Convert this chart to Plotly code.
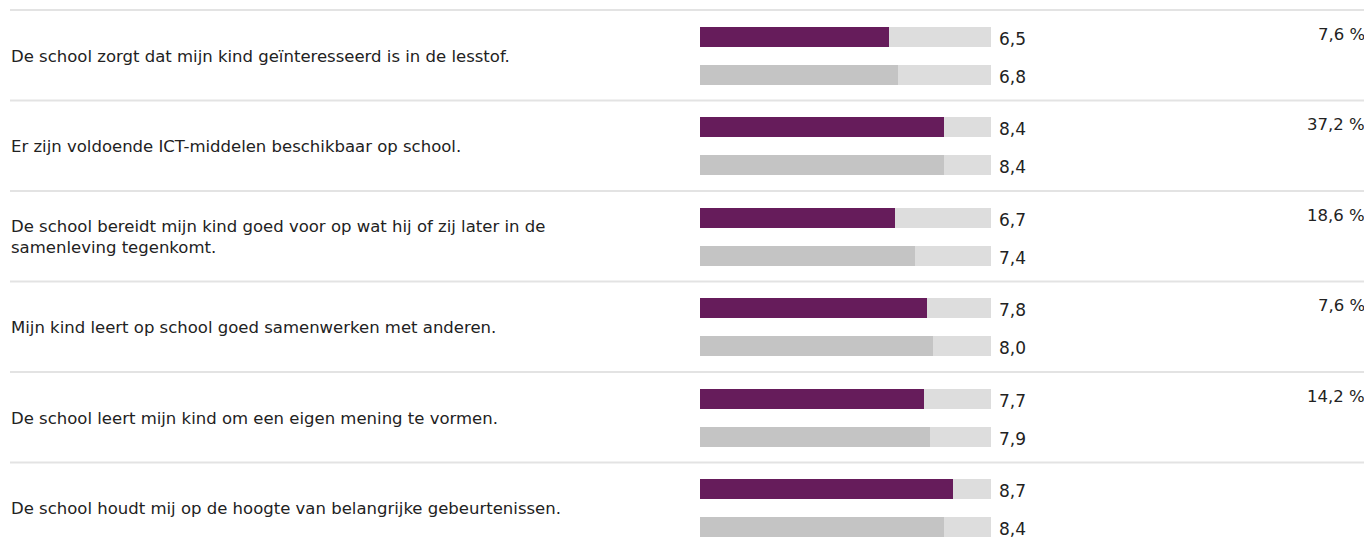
import plotly.graph_objects as go

questions = [
    "De school zorgt dat mijn kind geïnteresseerd is in de lesstof.",
    "Er zijn voldoende ICT-middelen beschikbaar op school.",
    "De school bereidt mijn kind goed voor op wat hij of zij later in de<br>samenleving tegenkomt.",
    "Mijn kind leert op school goed samenwerken met anderen.",
    "De school leert mijn kind om een eigen mening te vormen.",
    "De school houdt mij op de hoogte van belangrijke gebeurtenissen.",
]
school_scores = [6.5, 8.4, 6.7, 7.8, 7.7, 8.7]
benchmark_scores = [6.8, 8.4, 7.4, 8.0, 7.9, 8.4]
percentages = ["7,6 %", "37,2 %", "18,6 %", "7,6 %", "14,2 %", ""]
max_score = 10

# page body has an 8px margin; work in page pixels and convert
PAGE_W, PAGE_H = 1372, 548
OFF = 8
W, H = PAGE_W - 2 * OFF, PAGE_H - 2 * OFF
row_px = 90.5
top_px = 10 - OFF
FONT = "DejaVu Sans"
PURPLE = "#661c5b"
GRAY = "#c4c4c4"
TRACK = "#dddddd"
TEXT = "#222222"

def px(xp):
    return (xp - OFF) / W

n = len(questions)
rows = list(range(n))
y_school = [r + 0.298 for r in rows]
y_bench = [r + 0.713 for r in rows]
bar_w = 0.221

fig = go.Figure()
fig.add_trace(go.Bar(x=[max_score] * n, y=y_school, orientation="h", width=bar_w,
                     marker=dict(color=TRACK, line=dict(width=0)), hoverinfo="skip", showlegend=False))
fig.add_trace(go.Bar(x=[max_score] * n, y=y_bench, orientation="h", width=bar_w,
                     marker=dict(color=TRACK, line=dict(width=0)), hoverinfo="skip", showlegend=False))
fig.add_trace(go.Bar(x=school_scores, y=y_school, orientation="h", width=bar_w,
                     marker=dict(color=PURPLE, line=dict(width=0)), showlegend=False))
fig.add_trace(go.Bar(x=benchmark_scores, y=y_bench, orientation="h", width=bar_w,
                     marker=dict(color=GRAY, line=dict(width=0)), showlegend=False))

def fmt(v):
    return f"{v:.1f}".replace(".", ",")

annotations = []
shapes = []
for i in rows:
    shapes.append(dict(type="line", xref="paper", yref="y", x0=px(10), x1=1, y0=i, y1=i,
                       line=dict(color="#e3e3e3", width=2)))
    annotations.append(dict(xref="paper", yref="y", x=px(9), y=i + 0.5, text=questions[i],
                            xanchor="left", yanchor="middle", align="left", showarrow=False,
                            yshift=-1, font=dict(family=FONT, size=16.5, color=TEXT)))
    annotations.append(dict(xref="x", yref="y", x=max_score, y=y_school[i], text=fmt(school_scores[i]),
                            xanchor="left", yanchor="middle", xshift=6, yshift=-2, showarrow=False,
                            font=dict(family=FONT, size=17, color=TEXT)))
    annotations.append(dict(xref="x", yref="y", x=max_score, y=y_bench[i], text=fmt(benchmark_scores[i]),
                            xanchor="left", yanchor="middle", xshift=6, yshift=-2, showarrow=False,
                            font=dict(family=FONT, size=17, color=TEXT)))
    if percentages[i]:
        annotations.append(dict(xref="paper", yref="y", x=px(1367), y=y_school[i] - 0.03, text=percentages[i],
                                xanchor="right", yanchor="middle", showarrow=False,
                                font=dict(family=FONT, size=16.5, color=TEXT)))

fig.update_layout(
    width=W, height=H,
    margin=dict(l=0, r=0, t=0, b=0),
    paper_bgcolor="white", plot_bgcolor="white",
    barmode="overlay", bargap=0,
    xaxis=dict(domain=[px(700), px(991)], range=[0, max_score], visible=False, fixedrange=True),
    yaxis=dict(range=[(H - top_px) / row_px, -top_px / row_px], visible=False, fixedrange=True),
    shapes=shapes, annotations=annotations,
)

fig.write_html("out.html")
